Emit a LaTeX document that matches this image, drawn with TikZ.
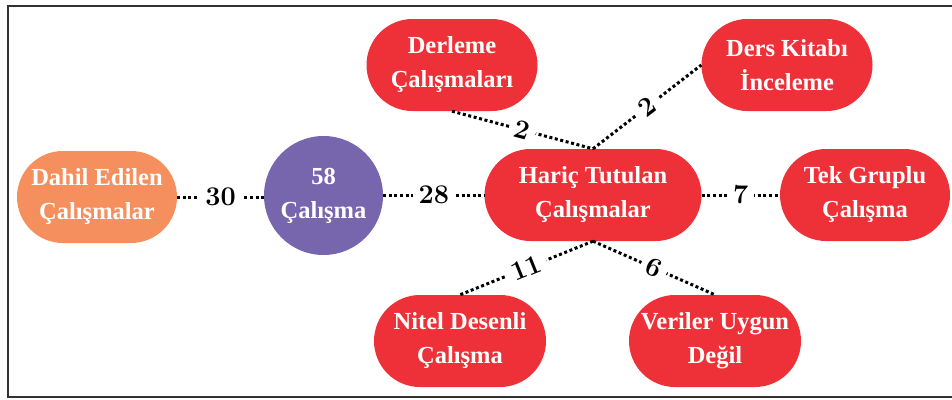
\documentclass[tikz,border=0pt]{standalone}
\usepackage{fontspec}
\newfontfamily\boxfont{Liberation Serif}
\definecolor{cred}{HTML}{EE3138}
\definecolor{corange}{HTML}{F68F5E}
\definecolor{cpurple}{HTML}{7765AD}
\definecolor{cframe}{HTML}{333333}
\begin{document}
\begin{tikzpicture}[x=1pt,y=-1pt,
  box/.style={rectangle, rounded corners=46pt, minimum height=92pt, text=white,
    font=\boxfont\bfseries\fontsize{24.5}{34}\selectfont, align=center, inner sep=0pt},
  redbox/.style={box, fill=cred},
  dots/.style={line width=3pt, dash pattern=on 3pt off 2.6pt, black},
  num/.style={fill=white, font=\bfseries\fontsize{27}{27}\selectfont, sloped, inner sep=6pt},
  frameline/.style={line width=2pt, cframe}]
\useasboundingbox (0,0) rectangle (952,399);
\draw[frameline] (952,6) -- (8,6) -- (8,397) -- (952,397);

\node[box, fill=corange, minimum width=160pt] (dahil) at (97,197) {Dahil Edilen\\Çalışmalar};
\node[circle, fill=cpurple, minimum size=119pt, text=white, inner sep=0pt,
  font=\boxfont\bfseries\fontsize{24.5}{34}\selectfont, align=center] (c58) at (323.5,195.5) {58\\Çalışma};
\node[redbox, minimum width=217pt] (haric) at (593,195) {Hariç Tutulan\\Çalışmalar};
\node[redbox, minimum width=170pt] (tek) at (865,195) {Tek Gruplu\\Çalışma};
\node[redbox, minimum width=171pt] (derleme) at (452,65) {Derleme\\Çalışmaları};
\node[redbox, minimum width=171pt] (ders) at (787,65) {Ders Kitabı\\İnceleme};
\node[redbox, minimum width=172pt] (nitel) at (460,341) {Nitel Desenli\\Çalışma};
\node[redbox, minimum width=172pt] (veriler) at (715,341) {Veriler Uygun\\Değil};

\draw[dots] (dahil.east) -- node[num] {30} (c58.west |- dahil.east);
\draw[dots] (c58.east |- haric.west) -- node[num] {28} (haric.west);
\draw[dots] (haric.east) -- node[num] {7} (tek.west);
\draw[dots] (derleme.south) -- node[num] {2} (haric.north);
\draw[dots] (haric.north) -- node[num] {2} (ders.west);
\draw[dots] (haric.south) -- node[num] {11} (nitel.north);
\draw[dots] (haric.south) -- node[num] {6} (veriler.north);
\end{tikzpicture}
\end{document}
